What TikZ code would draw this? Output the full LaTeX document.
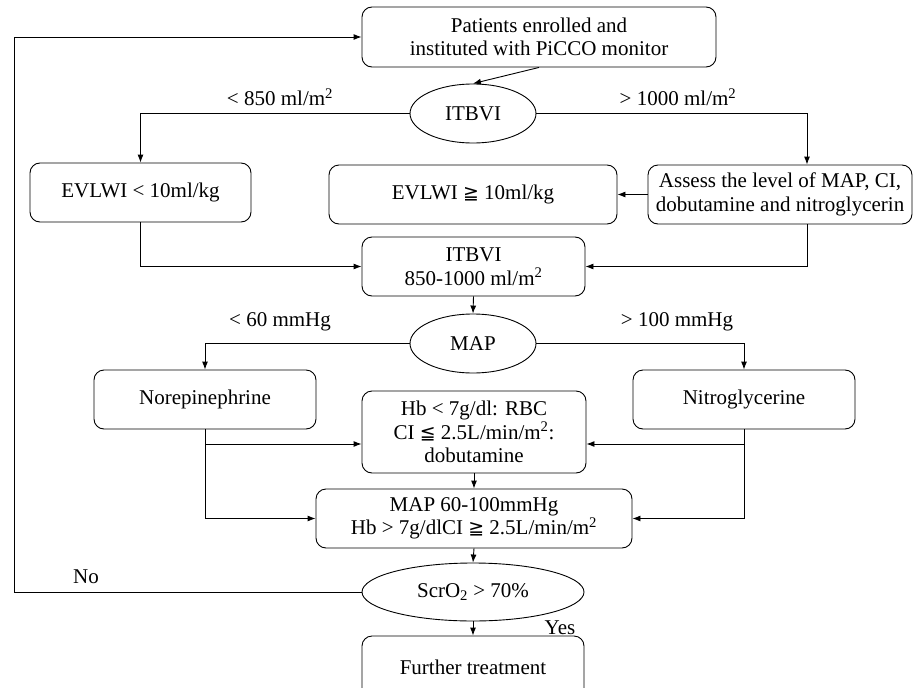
\documentclass[tikz,border=0pt]{standalone}
\usepackage{fontspec}
\setmainfont{Liberation Serif}
\newfontfamily\symf[Scale=0.9]{DejaVu Sans}
\newcommand\myleqq{{\symf\char"2266}}
\newcommand\mygeqq{{\symf\char"2267}}
\usetikzlibrary{arrows.meta,shapes.geometric}
\begin{document}
\begin{tikzpicture}[x=1pt,y=-1pt,
  every node/.style={font=\fontsize{21}{23.5}\selectfont, inner sep=0pt},
  rbox/.style={draw, line width=0.9pt, rounded corners=10pt, align=center, minimum height=59pt},
  oval/.style={draw, line width=0.9pt, ellipse, align=center, minimum height=59pt},
  arr/.style={line width=0.9pt, -{Latex[length=8pt,width=6pt]}},
  lbl/.style={}]
\useasboundingbox (0,0) rectangle (913,688);
% nodes
\node[rbox, minimum width=354pt, minimum height=60pt] (start) at (539,37) {Patients enrolled and\\instituted with PiCCO monitor};
\node[oval, minimum width=126pt] (itbvi) at (473,113.5) {ITBVI};
\node[rbox, minimum width=221pt] (evlA) at (140.5,192.5) {EVLWI < 10ml/kg};
\node[rbox, minimum width=288pt] (evlB) at (473,194.5) {EVLWI \mygeqq{} 10ml/kg};
\node[rbox, minimum width=264pt] (assess) at (780,194.5) {Assess the level of MAP, CI,\\dobutamine and nitroglycerin};
\node[rbox, minimum width=223pt] (itbox) at (473.5,266.5) {ITBVI\\850-1000 ml/m\textsuperscript{2}};
\node[oval, minimum width=126pt] (map) at (473,343.5) {MAP};
\node[rbox, minimum width=222pt] (nore) at (205,399.5) {Norepinephrine};
\node[rbox, minimum width=222pt] (nitro) at (744,399.5) {Nitroglycerine};
\node[rbox, minimum width=224pt, minimum height=82pt] (hb) at (474,432) {Hb < 7g/dl: RBC\\CI \myleqq{} 2.5L/min/m\textsuperscript{2}:\\dobutamine};
\node[rbox, minimum width=316pt] (mapok) at (474,518.5) {MAP 60-100mmHg\\Hb > 7g/dlCI \mygeqq{} 2.5L/min/m\textsuperscript{2}};
\node[oval, minimum width=222pt, minimum height=58pt] (scr) at (473,592) {ScrO\textsubscript{2} > 70\%};
\node[rbox, minimum width=222pt, minimum height=62pt] (further) at (473,667) {Further treatment};
% labels
\node[lbl] (l1) at (280,97) {< 850 ml/m\textsuperscript{2}};
\node[lbl] (l2) at (678,97) {> 1000 ml/m\textsuperscript{2}};
\node[lbl] (l3) at (280,322) {< 60 mmHg};
\node[lbl] (l4) at (677,322) {> 100 mmHg};
\node[lbl] (l5) at (86,577) {No};
\node[lbl] (l6) at (560,628) {Yes};
% connectors
\draw[arr] (start.south) -- (itbvi.north);
\draw[arr] (itbvi.west) -| (evlA.north);
\draw[arr] (itbvi.east) -| ([xshift=27pt]assess.north);
\draw[arr] (assess.west) -- (evlB.east);
\draw[arr] (evlA.south) |- (itbox.west);
\draw[arr] ([xshift=27pt]assess.south) |- (itbox.east);
\draw[arr] (itbox.south) -- (map.north);
\draw[arr] (map.west) -| (nore.north);
\draw[arr] (map.east) -| (nitro.north);
\draw[arr] (nore.south) |- (mapok.west);
\draw[arr] (nore.south |- hb.west) ++(0,12) -- ([yshift=-12pt]hb.west);
\draw[arr] (nitro.south) |- (mapok.east);
\draw[arr] (nitro.south |- hb.east) ++(0,12) -- ([yshift=-12pt]hb.east);
\draw[arr] (hb.south) -- (mapok.north);
\draw[arr] (mapok.south) -- (scr.north);
\draw[arr] (scr.south) -- (further.north);
\coordinate (ret) at (14,592);
\draw[arr] (scr.west) -- (scr.west -| ret) |- (start.west);
\end{tikzpicture}
\end{document}
